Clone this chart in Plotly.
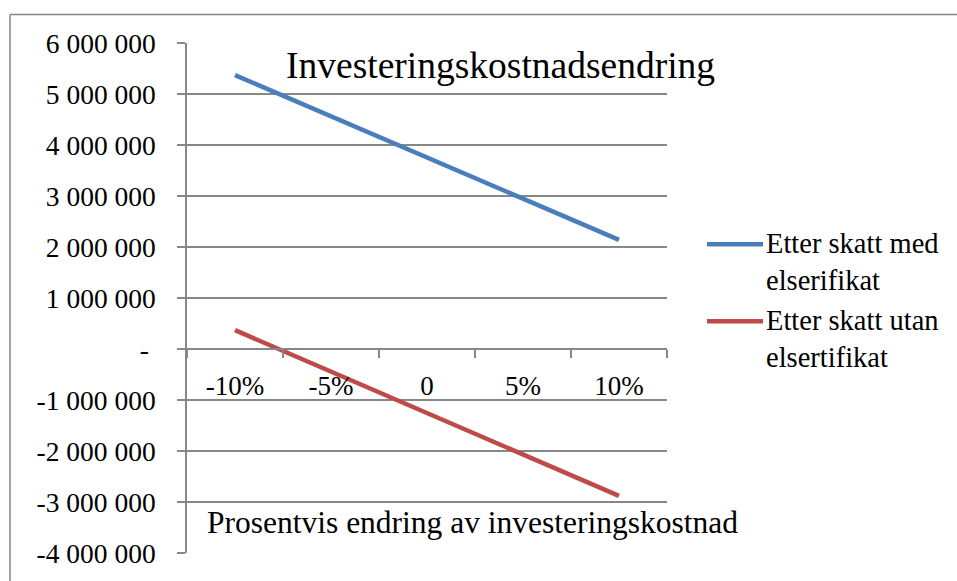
import plotly.graph_objects as go

# Data
categories = ["-10%", "-5%", "0", "5%", "10%"]
med_elsertifikat = [5370000, 4560000, 3755000, 2950000, 2140000]
utan_elsertifikat = [370000, -440000, -1250000, -2070000, -2880000]
series_names = ["Etter skatt med<br>elserifikat", "Etter skatt utan<br>elsertifikat"]
y_ticks = [6000000, 5000000, 4000000, 3000000, 2000000, 1000000, 0,
           -1000000, -2000000, -3000000, -4000000]

BLUE = "#4A7EBB"
RED = "#BE4B48"
GRID = "#878787"
FONT = "Liberation Serif"

W, H = 957, 581
L, R, T, B = 187, 667, 43, 560  # plot area in pixels


def px(x):
    return (x - L) / (R - L)


def py(y):
    return (B - y) / (B - T)


def fmt(v):
    if v == 0:
        return "-\u00a0"
    s = f"{abs(v):,}".replace(",", " ")
    return ("-" if v < 0 else "") + s


fig = go.Figure()
fig.add_trace(go.Scatter(x=categories, y=med_elsertifikat, mode="lines",
                         line=dict(color=BLUE, width=4.5), name=series_names[0]))
fig.add_trace(go.Scatter(x=categories, y=utan_elsertifikat, mode="lines",
                         line=dict(color=RED, width=4.5), name=series_names[1]))

fig.update_layout(
    width=W, height=H,
    margin=dict(l=L, r=W - R, t=T, b=H - B, pad=0),
    paper_bgcolor="white", plot_bgcolor="white",
    showlegend=False,
    font=dict(family=FONT, size=27, color="black"),
    xaxis=dict(type="category", categoryorder="array", categoryarray=categories,
               range=[-0.5, len(categories) - 0.5],
               anchor="free", position=0.4, showline=True, linecolor=GRID, linewidth=1.5,
               ticks="outside", tickson="boundaries", ticklen=8, tickcolor=GRID, tickwidth=1.5,
               showgrid=False, tickfont=dict(family=FONT, size=27), ticklabelstandoff=13),
    yaxis=dict(range=[-4000000, 6000000], tickvals=y_ticks, ticktext=[fmt(v) for v in y_ticks],
               showline=True, linecolor=GRID, linewidth=1.5, ticks="outside", ticklen=8,
               tickcolor=GRID, tickwidth=1.5, showgrid=True, gridcolor=GRID, gridwidth=1.5,
               zeroline=False, tickfont=dict(family=FONT, size=27.5), ticklabelstandoff=16),
)

# Chart title and axis title placed inside the plot area
fig.add_annotation(text="Investeringskostnadsendring", xref="paper", yref="paper",
                   x=px(284), y=py(66), xanchor="left", yanchor="middle", showarrow=False,
                   font=dict(family=FONT, size=37.5))
fig.add_annotation(text="Prosentvis endring av investeringskostnad", xref="paper", yref="paper",
                   x=px(205), y=py(529), xanchor="left", yanchor="middle", showarrow=False,
                   font=dict(family=FONT, size=31.5))

# Legend
for i, (name, color) in enumerate([(series_names[0], BLUE), (series_names[1], RED)]):
    ly = 247 + i * 78
    fig.add_shape(type="line", xref="paper", yref="paper", x0=px(707), x1=px(763),
                  y0=py(ly), y1=py(ly), line=dict(color=color, width=4.5))
    fig.add_annotation(text=name, xref="paper", yref="paper", x=px(764), y=py(ly - 18),
                       xanchor="left", yanchor="top", align="left", showarrow=False,
                       font=dict(family=FONT, size=28.5))

# Chart frame (top and left edges visible)
fig.add_shape(type="line", xref="paper", yref="paper", x0=px(10), x1=px(960),
              y0=py(14), y1=py(14), line=dict(color=GRID, width=1.5))
fig.add_shape(type="line", xref="paper", yref="paper", x0=px(10), x1=px(10),
              y0=py(14), y1=py(590), line=dict(color=GRID, width=1.5))

fig.write_html("out.html")
